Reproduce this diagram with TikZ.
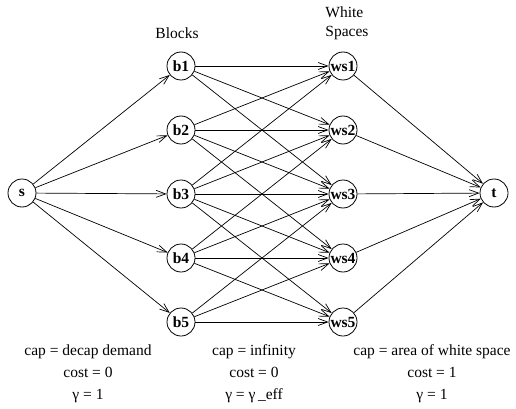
\documentclass[tikz,border=0pt]{standalone}
\usepackage{fontspec}
\setmainfont{Liberation Serif}
\usetikzlibrary{arrows.meta}
\begin{document}
\begin{tikzpicture}[x=1pt,y=-1pt, every node/.style={font=\fontsize{15.5}{19}\selectfont},
  vtx/.style={draw, circle, line width=0.8pt, minimum size=28pt, inner sep=0pt, font=\fontsize{15.5}{19}\selectfont\bfseries},
  flow/.style={line width=0.7pt, -{Straight Barb[length=9.5pt,width=7pt,line width=0.7pt]}}]
  \useasboundingbox (0,0) rectangle (516,409);
  % source and sink
  \node[vtx] (s) at (22,193) {s};
  \node[vtx] (t) at (494,193) {t};
  % blocks
  \node[vtx] (b1) at (181,66) {b1};
  \node[vtx] (b2) at (181,130) {b2};
  \node[vtx] (b3) at (181,194) {b3};
  \node[vtx] (b4) at (181,258) {b4};
  \node[vtx] (b5) at (181,322) {b5};
  % white spaces
  \node[vtx] (ws1) at (343,66) {ws1};
  \node[vtx] (ws2) at (343,130) {ws2};
  \node[vtx] (ws3) at (343,194) {ws3};
  \node[vtx] (ws4) at (343,258) {ws4};
  \node[vtx] (ws5) at (343,322) {ws5};
  % column titles
  \node (blocks) at (177,33) {Blocks};
  \node[align=left] (spaces) at (347,23) {White\\Spaces};
  % source to blocks
  \draw[flow] (s) -- (b1);
  \draw[flow] (s) -- (b2);
  \draw[flow] (s) -- (b3);
  \draw[flow] (s) -- (b4);
  \draw[flow] (s) -- (b5);
  % blocks to white spaces
  \draw[flow] (b1) -- (ws1);
  \draw[flow] (b1) -- (ws2);
  \draw[flow] (b1) -- (ws3);
  \draw[flow] (b2) -- (ws1);
  \draw[flow] (b2) -- (ws2);
  \draw[flow] (b2) -- (ws3);
  \draw[flow] (b2) -- (ws4);
  \draw[flow] (b3) -- (ws1);
  \draw[flow] (b3) -- (ws2);
  \draw[flow] (b3) -- (ws3);
  \draw[flow] (b3) -- (ws4);
  \draw[flow] (b3) -- (ws5);
  \draw[flow] (b4) -- (ws2);
  \draw[flow] (b4) -- (ws3);
  \draw[flow] (b4) -- (ws4);
  \draw[flow] (b4) -- (ws5);
  \draw[flow] (b5) -- (ws3);
  \draw[flow] (b5) -- (ws4);
  \draw[flow] (b5) -- (ws5);
  % white spaces to sink
  \draw[flow] (ws1) -- (t);
  \draw[flow] (ws2) -- (t);
  \draw[flow] (ws3) -- (t);
  \draw[flow] (ws4) -- (t);
  \draw[flow] (ws5) -- (t);
  % arc parameters
  \node[align=center, font=\fontsize{15.5}{22}\selectfont] (capsrc) at (88,374) {cap = decap demand\\cost = 0\\γ = 1};
  \node[align=center, font=\fontsize{15.5}{22}\selectfont] (capmid) at (254,374) {cap = infinity\\cost = 0\\γ = γ\,\_eff};
  \node[align=center, font=\fontsize{15.5}{22}\selectfont] (capsnk) at (432,374) {cap = area of white space\\cost = 1\\γ = 1};
\end{tikzpicture}
\end{document}
